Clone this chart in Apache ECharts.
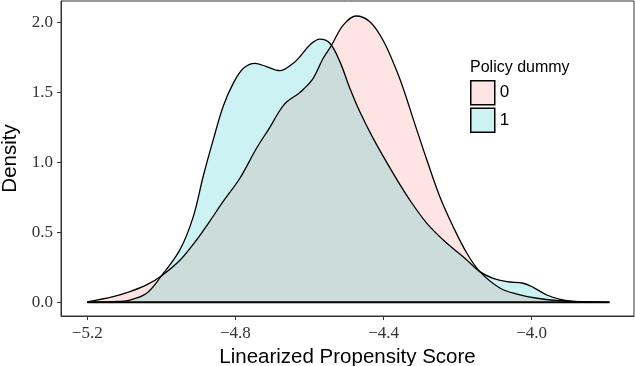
<!DOCTYPE html>
<html>
<head>
<meta charset="utf-8">
<script src="https://cdn.jsdelivr.net/npm/echarts@6/dist/echarts.min.js"></script>
<style>html,body{margin:0;padding:0;background:#fff}#c{width:635px;height:366px}</style>
</head>
<body>
<div id="c"></div>
<script>
var score0 = [-5.20, -5.13, -5.085, -5.04, -5.00, -4.95, -4.905, -4.87, -4.833, -4.788, -4.743, -4.707, -4.68, -4.662, -4.63, -4.617, -4.59, -4.563, -4.54, -4.509, -4.474, -4.437, -4.401, -4.364, -4.342, -4.32, -4.283, -4.248, -4.212, -4.175, -4.14, -4.085, -4.04, -3.986, -3.923, -3.878, -3.79];
var density0 = [0.003, 0.04, 0.076, 0.124, 0.188, 0.30, 0.445, 0.576, 0.72, 0.886, 1.10, 1.25, 1.37, 1.43, 1.49, 1.52, 1.60, 1.743, 1.838, 1.98, 2.045, 2.004, 1.87, 1.65, 1.49, 1.31, 1.016, 0.754, 0.54, 0.35, 0.219, 0.10, 0.059, 0.029, 0.011, 0.004, 0.0];
var score1 = [-5.20, -5.13, -5.085, -5.04, -5.00, -4.95, -4.914, -4.887, -4.860, -4.833, -4.806, -4.779, -4.747, -4.716, -4.680, -4.644, -4.626, -4.599, -4.572, -4.545, -4.518, -4.491, -4.464, -4.428, -4.374, -4.329, -4.283, -4.229, -4.185, -4.14, -4.104, -4.067, -4.023, -3.996, -3.959, -3.923, -3.888, -3.79];
var density1 = [0.001, 0.005, 0.016, 0.064, 0.188, 0.374, 0.61, 0.90, 1.16, 1.40, 1.564, 1.67, 1.707, 1.683, 1.655, 1.707, 1.754, 1.838, 1.879, 1.85, 1.719, 1.529, 1.361, 1.171, 0.921, 0.73, 0.564, 0.421, 0.326, 0.219, 0.171, 0.147, 0.136, 0.107, 0.052, 0.021, 0.007, 0.0];
var groups = ['0', '1'];
var groupColors = ['#F8766D', '#00BFC4'];
var xTicks = [-5.2, -4.8, -4.4, -4.0];
var yTicks = [0, 0.5, 1.0, 1.5, 2.0];
var legendTitle = 'Policy dummy';
var xTitle = 'Linearized Propensity Score';
var yTitle = 'Density';

function pairs(xs, ys) { return xs.map(function (x, i) { return [x, ys[i]]; }); }
function fmt(v) { return (v < 0 ? '\u2212' : '') + Math.abs(v).toFixed(1); }
function lighten(hex, a) {
  var r = parseInt(hex.substr(1, 2), 16), g = parseInt(hex.substr(3, 2), 16), b = parseInt(hex.substr(5, 2), 16);
  function m(c) { return Math.round(255 * (1 - a) + c * a); }
  return 'rgb(' + m(r) + ',' + m(g) + ',' + m(b) + ')';
}
var allX = score0.concat(score1);
var xMinData = Math.min.apply(null, allX), xMaxData = Math.max.apply(null, allX);

var chart = echarts.init(document.getElementById('c'), null, { renderer: 'canvas' });
var serif = 'Liberation Serif';
var sans = 'Liberation Sans';
function densitySeries(name, xs, ys, color) {
  return {
    name: name, type: 'line', data: pairs(xs, ys), smooth: 0.35, showSymbol: false, symbol: 'none',
    itemStyle: { color: color },
    lineStyle: { color: '#000', width: 1.3 },
    areaStyle: { color: color, opacity: 0.2, origin: 0 },
    silent: true
  };
}
chart.setOption({
  animation: false,
  title: {
    text: legendTitle, left: 470, top: 60, padding: 0,
    textStyle: { fontFamily: sans, fontSize: 16, fontWeight: 'normal', color: '#000' }
  },
  legend: {
    orient: 'vertical', left: 470, top: 80, padding: 0, itemWidth: 24, itemHeight: 24, itemGap: 2,
    icon: 'rect',
    textStyle: { fontFamily: sans, fontSize: 17, color: '#000', padding: [0, 0, 0, 0] },
    data: groups.map(function (g, i) {
      return { name: g, itemStyle: { color: lighten(groupColors[i], 0.2), borderColor: '#000', borderWidth: 1.5 } };
    })
  },
  grid: { left: 61, top: 1, right: 1, bottom: 50, containLabel: false, outerBoundsMode: 'none', show: true, borderColor: '#333', borderWidth: 1, backgroundColor: '#fff' },
  xAxis: {
    type: 'value', min: -5.271, max: -3.7237,
    name: xTitle, nameLocation: 'middle', nameGap: 26,
    nameTextStyle: { fontFamily: sans, fontSize: 20.5, color: '#000' },
    axisLine: { show: true, onZero: false, lineStyle: { color: '#333', width: 1 } },
    axisTick: { show: true, length: 4, lineStyle: { color: '#333' }, customValues: xTicks },
    axisLabel: { fontFamily: serif, fontSize: 17, color: '#333', margin: 9, formatter: fmt, customValues: xTicks },
    splitLine: { show: false }
  },
  yAxis: {
    type: 'value', min: -0.0979, max: 2.152,
    name: yTitle, nameLocation: 'middle', nameGap: 38,
    nameTextStyle: { fontFamily: sans, fontSize: 20.5, color: '#000' },
    axisLine: { show: true, onZero: false, lineStyle: { color: '#333', width: 1 } },
    axisTick: { show: true, length: 4, lineStyle: { color: '#333' }, customValues: yTicks },
    axisLabel: { fontFamily: serif, fontSize: 17, color: '#333', margin: 8, formatter: fmt, customValues: yTicks },
    splitLine: { show: false }
  },
  series: [
    densitySeries(groups[0], score0, density0, groupColors[0]),
    densitySeries(groups[1], score1, density1, groupColors[1]),
    {
      name: 'baseline', type: 'line', data: [[xMinData, 0], [xMaxData, 0]], showSymbol: false, symbol: 'none',
      lineStyle: { color: '#000', width: 2 }, silent: true
    }
  ]
});
</script>
</body>
</html>
